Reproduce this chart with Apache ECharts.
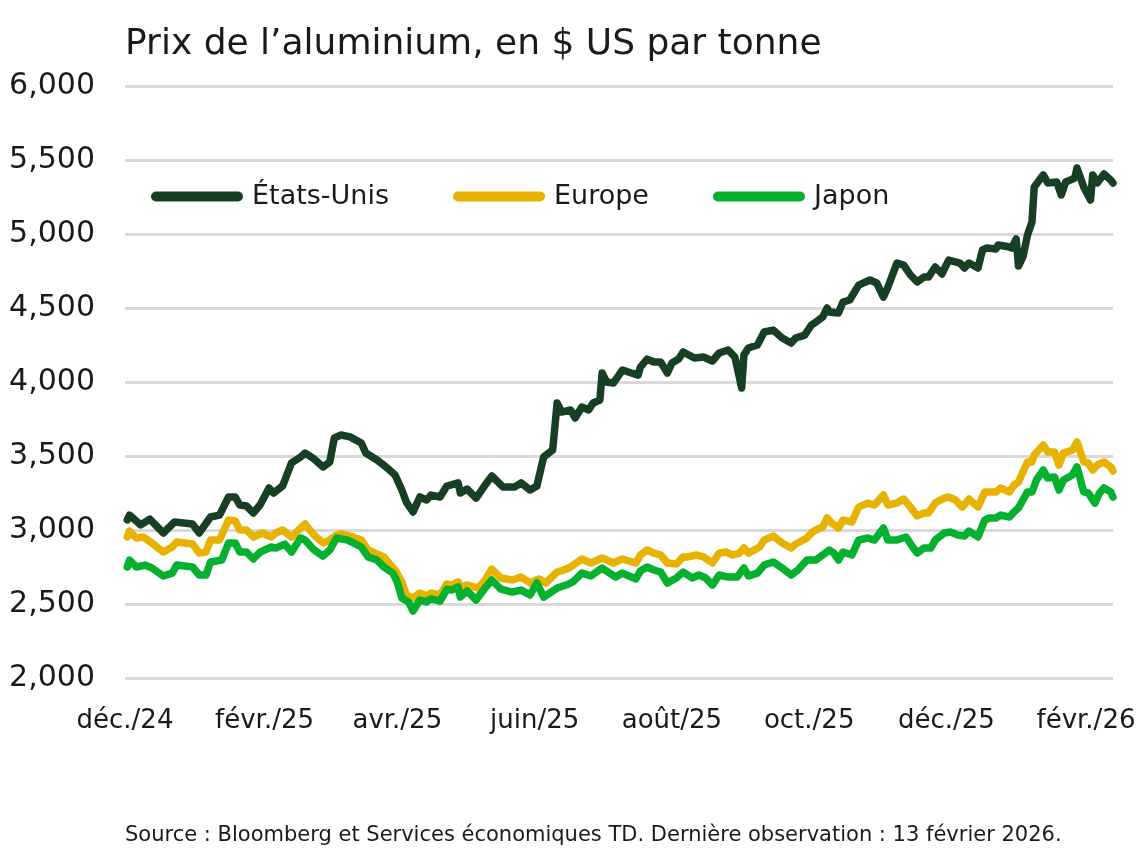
<!DOCTYPE html>
<html><head><meta charset="utf-8">
<script src="https://cdn.jsdelivr.net/npm/echarts@6/dist/echarts.min.js"></script>
<style>html,body{margin:0;padding:0;background:#fff}#c{width:1139px;height:850px}</style>
</head><body><div id="c"></div>
<script>
const titleText = "Prix de l’aluminium, en $ US par tonne";
const sourceText = "Source : Bloomberg et Services économiques TD. Dernière observation : 13 février 2026.";
const seriesNames = ["États-Unis", "Europe", "Japon"];
const tickDates = ["2024-12-01","2025-02-01","2025-04-01","2025-06-01","2025-08-01","2025-10-01","2025-12-01","2026-02-01"];
const tickLabels = ["déc./24","févr./25","avr./25","juin/25","août/25","oct./25","déc./25","févr./26"];

const usDates = ["2024-12-02","2024-12-03","2024-12-08","2024-12-12","2024-12-18","2024-12-23","2024-12-31","2025-01-03","2025-01-08","2025-01-12","2025-01-16","2025-01-19","2025-01-21","2025-01-24","2025-01-27","2025-01-30","2025-02-03","2025-02-05","2025-02-09","2025-02-13","2025-02-17","2025-02-19","2025-02-23","2025-02-27","2025-03-02","2025-03-04","2025-03-07","2025-03-11","2025-03-16","2025-03-18","2025-03-23","2025-03-27","2025-03-31","2025-04-03","2025-04-05","2025-04-08","2025-04-11","2025-04-14","2025-04-16","2025-04-20","2025-04-23","2025-04-28","2025-04-29","2025-05-02","2025-05-06","2025-05-10","2025-05-13","2025-05-18","2025-05-23","2025-05-26","2025-05-30","2025-06-02","2025-06-05","2025-06-09","2025-06-10","2025-06-11","2025-06-13","2025-06-17","2025-06-19","2025-06-22","2025-06-25","2025-06-27","2025-06-30","2025-07-01","2025-07-03","2025-07-06","2025-07-10","2025-07-14","2025-07-17","2025-07-18","2025-07-21","2025-07-24","2025-07-27","2025-07-30","2025-08-01","2025-08-04","2025-08-06","2025-08-11","2025-08-15","2025-08-19","2025-08-22","2025-08-26","2025-08-29","2025-09-01","2025-09-02","2025-09-04","2025-09-08","2025-09-11","2025-09-15","2025-09-19","2025-09-23","2025-09-25","2025-09-29","2025-10-02","2025-10-04","2025-10-07","2025-10-09","2025-10-10","2025-10-14","2025-10-16","2025-10-19","2025-10-23","2025-10-28","2025-10-31","2025-11-03","2025-11-05","2025-11-09","2025-11-12","2025-11-15","2025-11-18","2025-11-21","2025-11-23","2025-11-26","2025-11-29","2025-12-02","2025-12-07","2025-12-09","2025-12-11","2025-12-15","2025-12-17","2025-12-19","2025-12-23","2025-12-24","2025-12-29","2025-12-30","2026-01-01","2026-01-02","2026-01-04","2026-01-06","2026-01-08","2026-01-09","2026-01-13","2026-01-15","2026-01-19","2026-01-21","2026-01-23","2026-01-27","2026-01-28","2026-01-31","2026-02-03","2026-02-04","2026-02-06","2026-02-09","2026-02-12","2026-02-13"];
const usValues = [3068,3101,3034,3074,2980,3054,3040,2980,3088,3101,3223,3223,3169,3162,3115,3169,3284,3250,3297,3453,3493,3520,3480,3426,3460,3622,3642,3629,3588,3520,3473,3426,3372,3270,3189,3122,3223,3203,3236,3223,3297,3318,3250,3277,3216,3304,3365,3290,3290,3318,3270,3297,3493,3540,3696,3858,3797,3811,3757,3831,3811,3858,3878,4061,4000,3993,4081,4061,4047,4101,4155,4135,4135,4061,4128,4155,4203,4162,4169,4142,4196,4216,4169,3959,4182,4230,4250,4338,4351,4297,4263,4297,4317,4385,4405,4439,4500,4473,4466,4540,4554,4655,4689,4669,4574,4642,4804,4790,4723,4676,4709,4709,4777,4730,4824,4804,4770,4804,4770,4892,4905,4899,4926,4912,4905,4966,4784,4845,4993,5081,5318,5399,5345,5351,5264,5351,5378,5446,5318,5230,5399,5345,5405,5365,5345];

const euDates = ["2024-12-02","2024-12-03","2024-12-06","2024-12-09","2024-12-13","2024-12-18","2024-12-22","2024-12-24","2024-12-31","2025-01-03","2025-01-06","2025-01-08","2025-01-12","2025-01-16","2025-01-19","2025-01-21","2025-01-24","2025-01-27","2025-01-31","2025-02-04","2025-02-06","2025-02-09","2025-02-13","2025-02-17","2025-02-19","2025-02-23","2025-02-27","2025-03-02","2025-03-05","2025-03-07","2025-03-11","2025-03-16","2025-03-19","2025-03-23","2025-03-26","2025-03-29","2025-03-31","2025-04-03","2025-04-05","2025-04-08","2025-04-11","2025-04-14","2025-04-16","2025-04-20","2025-04-23","2025-04-25","2025-04-28","2025-04-29","2025-05-02","2025-05-05","2025-05-07","2025-05-10","2025-05-13","2025-05-17","2025-05-22","2025-05-26","2025-05-30","2025-06-03","2025-06-06","2025-06-11","2025-06-14","2025-06-17","2025-06-22","2025-06-26","2025-07-01","2025-07-06","2025-07-10","2025-07-16","2025-07-18","2025-07-21","2025-07-24","2025-07-27","2025-07-30","2025-08-03","2025-08-06","2025-08-08","2025-08-12","2025-08-15","2025-08-19","2025-08-22","2025-08-25","2025-08-28","2025-08-31","2025-09-02","2025-09-04","2025-09-09","2025-09-11","2025-09-15","2025-09-19","2025-09-23","2025-09-25","2025-09-30","2025-10-02","2025-10-04","2025-10-07","2025-10-09","2025-10-11","2025-10-14","2025-10-16","2025-10-20","2025-10-23","2025-10-27","2025-10-30","2025-11-03","2025-11-05","2025-11-09","2025-11-12","2025-11-15","2025-11-18","2025-11-21","2025-11-23","2025-11-26","2025-11-30","2025-12-02","2025-12-05","2025-12-08","2025-12-11","2025-12-15","2025-12-18","2025-12-23","2025-12-25","2025-12-29","2025-12-31","2026-01-02","2026-01-06","2026-01-08","2026-01-09","2026-01-13","2026-01-15","2026-01-18","2026-01-20","2026-01-22","2026-01-26","2026-01-28","2026-01-31","2026-02-02","2026-02-04","2026-02-06","2026-02-09","2026-02-12","2026-02-13"];
const euValues = [2953,2993,2946,2953,2912,2851,2885,2919,2905,2844,2851,2932,2932,3068,3061,3000,3000,2953,2980,2953,2980,3000,2953,3013,3040,2966,2912,2932,2966,2973,2959,2932,2865,2838,2818,2763,2730,2649,2561,2540,2574,2554,2574,2561,2635,2628,2649,2608,2628,2615,2608,2662,2736,2676,2662,2682,2642,2669,2642,2716,2730,2750,2804,2777,2811,2777,2804,2777,2831,2865,2844,2831,2777,2770,2818,2818,2831,2818,2777,2844,2851,2831,2844,2878,2844,2885,2932,2959,2912,2878,2905,2946,2980,3000,3020,3081,3047,3013,3067,3054,3155,3182,3169,3236,3169,3182,3209,3155,3095,3115,3115,3182,3216,3223,3203,3155,3209,3155,3257,3257,3284,3257,3304,3324,3460,3460,3507,3574,3527,3527,3439,3520,3540,3595,3460,3453,3405,3439,3460,3426,3399];

const jpDates = ["2024-12-02","2024-12-03","2024-12-06","2024-12-10","2024-12-13","2024-12-18","2024-12-22","2024-12-24","2024-12-31","2025-01-03","2025-01-06","2025-01-08","2025-01-13","2025-01-16","2025-01-19","2025-01-21","2025-01-24","2025-01-27","2025-01-30","2025-02-04","2025-02-06","2025-02-10","2025-02-13","2025-02-17","2025-02-19","2025-02-23","2025-02-27","2025-03-02","2025-03-05","2025-03-10","2025-03-16","2025-03-19","2025-03-23","2025-03-26","2025-03-30","2025-04-01","2025-04-03","2025-04-06","2025-04-08","2025-04-11","2025-04-14","2025-04-16","2025-04-20","2025-04-23","2025-04-25","2025-04-28","2025-04-29","2025-05-02","2025-05-06","2025-05-10","2025-05-13","2025-05-17","2025-05-22","2025-05-26","2025-05-30","2025-06-02","2025-06-05","2025-06-11","2025-06-15","2025-06-18","2025-06-22","2025-06-26","2025-07-01","2025-07-07","2025-07-10","2025-07-16","2025-07-18","2025-07-21","2025-07-24","2025-07-27","2025-07-30","2025-08-03","2025-08-06","2025-08-10","2025-08-13","2025-08-16","2025-08-19","2025-08-22","2025-08-26","2025-08-30","2025-09-02","2025-09-04","2025-09-08","2025-09-11","2025-09-15","2025-09-19","2025-09-23","2025-09-26","2025-09-30","2025-10-04","2025-10-07","2025-10-10","2025-10-12","2025-10-14","2025-10-16","2025-10-20","2025-10-23","2025-10-27","2025-10-30","2025-11-03","2025-11-05","2025-11-09","2025-11-13","2025-11-16","2025-11-18","2025-11-21","2025-11-24","2025-11-26","2025-11-30","2025-12-03","2025-12-06","2025-12-09","2025-12-11","2025-12-15","2025-12-18","2025-12-20","2025-12-23","2025-12-25","2025-12-29","2025-12-31","2026-01-02","2026-01-06","2026-01-08","2026-01-10","2026-01-13","2026-01-15","2026-01-18","2026-01-20","2026-01-22","2026-01-26","2026-01-28","2026-01-31","2026-02-02","2026-02-05","2026-02-07","2026-02-09","2026-02-12","2026-02-13"];
const jpValues = [2750,2797,2750,2763,2743,2689,2709,2763,2750,2696,2696,2784,2797,2912,2912,2851,2851,2804,2851,2885,2878,2905,2851,2946,2932,2865,2824,2865,2946,2932,2885,2818,2797,2750,2709,2649,2540,2514,2453,2527,2514,2534,2520,2601,2594,2615,2547,2588,2527,2608,2662,2601,2581,2594,2561,2642,2547,2608,2628,2649,2709,2689,2743,2682,2709,2669,2723,2750,2730,2716,2642,2676,2716,2676,2696,2676,2628,2696,2682,2682,2743,2689,2709,2763,2784,2743,2696,2730,2797,2797,2831,2865,2844,2797,2851,2831,2932,2946,2932,3013,2932,2932,2953,2885,2844,2878,2878,2932,2980,2986,2966,2959,2993,2953,3067,3081,3081,3101,3088,3122,3149,3257,3257,3338,3405,3351,3358,3270,3338,3372,3426,3257,3250,3182,3250,3284,3257,3223];

const colors = ["#173f24", "#e8b200", "#03b12f"];
const FONT = "DejaVu Sans";
const toMs = d => new Date(d + "T00:00:00Z").getTime();
const zip = (d, v) => d.map((x, i) => [toMs(x), v[i]]);
const seriesData = [zip(usDates, usValues), zip(euDates, euValues), zip(jpDates, jpValues)];
const tickTimes = tickDates.map(toMs);

const chart = echarts.init(document.getElementById('c'), null, {renderer: 'canvas'});
chart.setOption({
  animation: false,
  backgroundColor: '#fff',
  textStyle: {fontFamily: FONT, color: '#1a1a1a'},
  title: [
    {text: titleText, left: 120, top: 22, textStyle: {fontFamily: FONT, fontSize: 36, fontWeight: 'normal', color: '#1a1a1a'}},
    {text: sourceText, left: 120, top: 820, textStyle: {fontFamily: FONT, fontSize: 21, fontWeight: 'normal', color: '#1a1a1a'}}
  ],
  legend: {
    left: 146, top: 178, itemWidth: 92, itemHeight: 10, itemGap: 64,
    icon: 'path://M5,0 H87 A5,5 0 0 1 87,10 H5 A5,5 0 0 1 5,0 Z',
    textStyle: {fontFamily: FONT, fontSize: 27, color: '#1a1a1a', padding: [0, 0, 0, 4]},
    data: seriesNames
  },
  grid: {left: 125, right: 26, top: 86, bottom: 172},
  xAxis: {
    type: 'value',
    min: tickTimes[0],
    max: toMs("2026-02-13"),
    axisLine: {show: false}, axisTick: {show: false}, splitLine: {show: false},
    axisLabel: {
      customValues: tickTimes,
      showMinLabel: true, showMaxLabel: true,
      margin: 30, fontSize: 26, fontFamily: FONT, color: '#1a1a1a', hideOverlap: false,
      formatter: (v) => { const i = tickTimes.indexOf(v); return i >= 0 ? tickLabels[i] : ''; }
    }
  },
  yAxis: {
    type: 'value', min: 2000, max: 6000, interval: 500,
    axisLine: {show: false}, axisTick: {show: false},
    splitLine: {lineStyle: {color: '#d9d9d9', width: 3}},
    axisLabel: {margin: 30, fontSize: 30, fontFamily: FONT, color: '#1a1a1a',
      formatter: v => v.toLocaleString('en-US')}
  },
  series: seriesNames.map((n, i) => ({
    name: n, type: 'line', data: seriesData[i], showSymbol: false, symbol: 'none',
    lineStyle: {width: 7.5, color: colors[i], cap: 'round', join: 'round'},
    itemStyle: {color: colors[i]}
  }))
});
</script></body></html>
